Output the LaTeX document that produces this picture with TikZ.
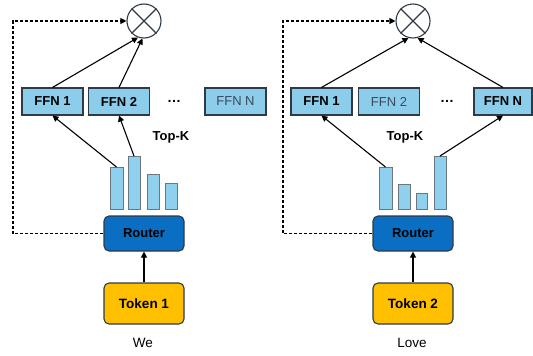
\documentclass[tikz,border=0pt]{standalone}
\usepackage{fontspec}
\setmainfont{Liberation Sans}
\usetikzlibrary{arrows.meta}
\definecolor{ffnfill}{HTML}{8CCDEC}
\definecolor{barfill}{HTML}{8FD0EE}
\definecolor{routerfill}{HTML}{0A6FC2}
\definecolor{tokenfill}{HTML}{FFC000}
\definecolor{edge}{HTML}{2E3A46}
\definecolor{offtext}{HTML}{3A4A5A}
\begin{document}
\begin{tikzpicture}[x=1pt,y=-1pt,
  ffnon/.style={draw=edge,line width=1.1pt,fill=ffnfill,minimum width=61pt,minimum height=27pt,inner sep=0pt,font=\fontsize{13}{15}\selectfont\bfseries},
  ffnoff/.style={draw=edge,line width=1.1pt,fill=ffnfill,minimum width=61pt,minimum height=27pt,inner sep=0pt,font=\fontsize{13}{15}\selectfont,text=offtext},
  router/.style={draw=edge,line width=1.1pt,fill=routerfill,rounded corners=5pt,minimum width=80pt,minimum height=35pt,inner sep=0pt,font=\fontsize{13}{15}\selectfont\bfseries},
  token/.style={draw=edge,line width=1.1pt,fill=tokenfill,rounded corners=5pt,minimum width=80pt,minimum height=41pt,inner sep=0pt,font=\fontsize{13.5}{16}\selectfont\bfseries},
  mult/.style={draw=edge,line width=1.1pt,circle,minimum size=34pt,inner sep=0pt},
  bar/.style={draw=edge!70,line width=0.7pt,fill=barfill},
  arr/.style={-{Triangle[length=6pt,width=6pt]},line width=1.1pt,black},
  dashline/.style={-{Triangle[length=6pt,width=6pt]},line width=1.1pt,dash pattern=on 3pt off 2pt,black},
  lbl/.style={font=\fontsize{13.5}{16}\selectfont},
  dots/.style={font=\fontsize{14}{16}\selectfont\bfseries,inner sep=0pt,anchor=base},
  topk/.style={font=\fontsize{13}{15}\selectfont\bfseries}]
\useasboundingbox (0,0) rectangle (533,356);
% ---------- left panel ----------
\node[mult] (mA) at (144,21) {};
\draw[edge,line width=1.1pt] (mA.north west) -- (mA.south east) (mA.north east) -- (mA.south west);
\node[ffnon] (a1) at (52.5,101.5) {FFN 1};
\node[ffnon] (a2) at (119,101.5) {FFN 2};
\node[dots] (adots) at (174,102.5) {…};
\node[ffnoff] (aN) at (235.5,101.5) {FFN N};
\node[topk] (atk) at (171,137) {Top-K};
\draw[bar] (110,209) rectangle (123,167);
\draw[bar] (128,209) rectangle (140,156);
\draw[bar] (147,209) rectangle (159,174);
\draw[bar] (165,209) rectangle (177,183);
\coordinate (ab1t) at (116.5,167);
\coordinate (ab2t) at (134,156);
\node[router] (ar) at (144,233.5) {Router};
\node[token] (at) at (144,303.5) {Token 1};
\node[lbl] (aw) at (143,343) {We};
\draw[arr] (at) -- (ar);
\draw[arr] (ab1t) -- (a1.south);
\draw[arr] (ab2t) -- (a2.south);
\draw[arr] (a1.north) -- (mA.250);
\draw[arr] (a2.north) -- (mA.265);
\coordinate (ac1) at (13,233.5);
\coordinate (ac2) at (13,21);
\draw[dashline] (ar.west) -- (ac1) -- (ac2) -- (mA.west);
% ---------- right panel ----------
\node[mult] (mB) at (413,21) {};
\draw[edge,line width=1.1pt] (mB.north west) -- (mB.south east) (mB.north east) -- (mB.south west);
\node[ffnon] (b1) at (321.5,101.5) {FFN 1};
\node[ffnoff] (b2) at (389,101.5) {FFN 2};
\node[dots] (bdots) at (447,102.5) {…};
\node[ffnon,minimum width=58pt] (bN) at (503,101.5) {FFN N};
\node[topk] (btk) at (405,137) {Top-K};
\draw[bar] (379,209) rectangle (392,167);
\draw[bar] (398,209) rectangle (410,184);
\draw[bar] (416,209) rectangle (427,193);
\draw[bar] (434,209) rectangle (446,156);
\coordinate (bb1t) at (385.5,167);
\coordinate (bb4t) at (440,156);
\node[router] (br) at (413,233.5) {Router};
\node[token] (bt) at (413,303.5) {Token 2};
\node[lbl] (bw) at (412,343) {Love};
\draw[arr] (bt) -- (br);
\draw[arr] (bb1t) -- (b1.south);
\draw[arr] (bb4t) -- (bN.south);
\draw[arr] (b1.north) -- (mB.255);
\draw[arr] (bN.north) -- (mB.285);
\coordinate (bc1) at (283,233.5);
\coordinate (bc2) at (283,21);
\draw[dashline] (br.west) -- (bc1) -- (bc2) -- (mB.west);
\end{tikzpicture}
\end{document}
